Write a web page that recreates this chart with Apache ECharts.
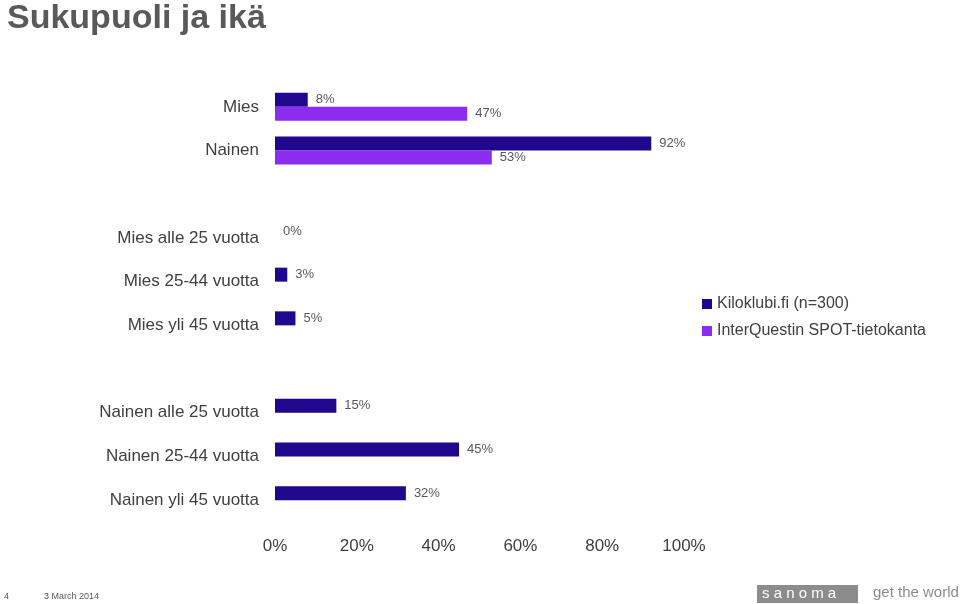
<!DOCTYPE html>
<html><head><meta charset="utf-8">
<script src="https://cdn.jsdelivr.net/npm/echarts@6/dist/echarts.min.js"></script>
<style>html,body{margin:0;padding:0;background:#fff}#c{width:960px;height:604px}</style>
</head><body><div id="c"></div>
<script>
const categories = ['Mies','Nainen','','Mies alle 25 vuotta','Mies 25-44 vuotta','Mies yli 45 vuotta','','','Nainen alle 25 vuotta','Nainen 25-44 vuotta','Nainen yli 45 vuotta'];
const kiloklubi = [8,92,null,0,3,5,null,null,15,45,32];
const interquestin = [47,53,null,null,null,null,null,null,null,null,null];
const xTicks = [0,20,40,60,80,100];
const cats = categories.slice(0,7).concat(categories.slice(8));
const kilo = kiloklubi.slice(0,7).concat(kiloklubi.slice(8));
const iq = interquestin.slice(0,7).concat(interquestin.slice(8));
const chart = echarts.init(document.getElementById('c'));
const lbl = {show:true,position:'right',distance:8,color:'#595959',fontSize:13,fontFamily:'Liberation Sans, Arial',formatter:p=>p.value+'%'};
chart.setOption({
  animation:false,
  title:{text:'Sukupuoli ja ikä',left:2,top:-3,textStyle:{fontSize:34,fontWeight:'bold',color:'#595959',fontFamily:'Liberation Sans, Arial'}},
  legend:{orient:'vertical',left:697,top:291,itemWidth:10,itemHeight:10,itemGap:11,icon:'rect',
    textStyle:{fontSize:16,color:'#404040',fontFamily:'Liberation Sans, Arial'},
    data:['Kiloklubi.fi (n=300)','InterQuestin SPOT-tietokanta']},
  grid:{left:275,right:276,top:85,bottom:82},
  xAxis:{type:'value',min:0,max:100,interval:20,axisLine:{show:false},axisTick:{show:false},splitLine:{show:false},
    axisLabel:{formatter:v=>v+'%',fontSize:17,color:'#404040',margin:16,fontFamily:'Liberation Sans, Arial'}},
  yAxis:{type:'category',data:cats,inverse:true,axisLine:{show:false},axisTick:{show:false},
    axisLabel:{fontSize:17,color:'#404040',margin:16,fontFamily:'Liberation Sans, Arial'}},
  series:[
    {name:'Kiloklubi.fi (n=300)',type:'bar',data:kilo,barWidth:14,barGap:'0%',itemStyle:{color:'#21078e'},label:lbl},
    {name:'InterQuestin SPOT-tietokanta',type:'bar',data:iq,barWidth:14,itemStyle:{color:'#8b2cf0'},label:lbl}
  ],
  graphic:[
    {type:'text',left:4,top:592,style:{text:'4',fontSize:9,fill:'#595959'}},
    {type:'text',left:44,top:592,style:{text:'3 March 2014',fontSize:9,fill:'#595959'}},
    {type:'rect',shape:{x:757,y:585,width:101,height:18},style:{fill:'#8c8c8c'}},
    {type:'text',left:762,top:586,style:{text:'s a n o m a',fontSize:15,fill:'#fff',fontFamily:'Liberation Sans, Arial'}},
    {type:'text',left:873,top:585,style:{text:'get the world',fontSize:15,fill:'#8c8c8c',fontFamily:'Liberation Sans, Arial'}}
  ]
});
</script></body></html>
